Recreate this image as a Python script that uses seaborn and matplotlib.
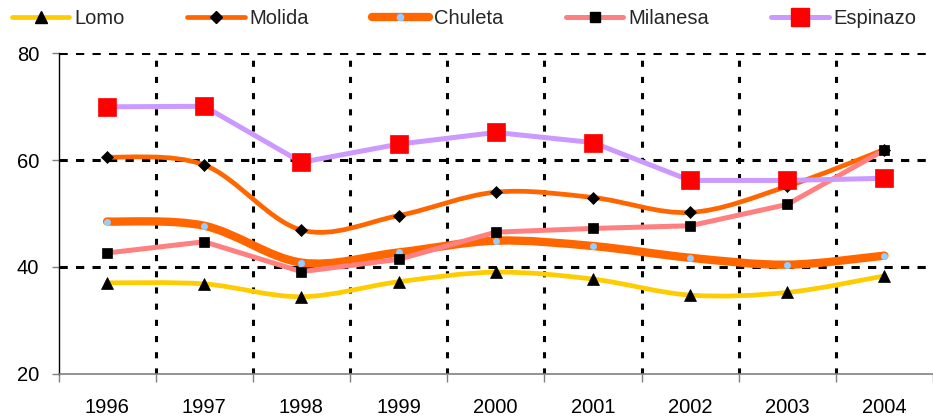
import numpy as np
import pandas as pd
import matplotlib
matplotlib.use("Agg")
import matplotlib.pyplot as plt
from matplotlib.path import Path
from matplotlib.patches import PathPatch
from matplotlib.lines import Line2D
import seaborn as sns

# ---- data ----
years = ['1996', '1997', '1998', '1999', '2000', '2001', '2002', '2003', '2004']
lomo = [37.0, 36.8, 34.4, 37.2, 39.0, 37.7, 34.7, 35.2, 38.3]
molida = [60.6, 59.1, 46.9, 49.6, 54.0, 53.0, 50.2, 55.1, 62.0]
chuleta = [48.5, 47.7, 40.8, 42.7, 44.9, 43.9, 41.7, 40.4, 42.1]
milanesa = [42.6, 44.7, 39.1, 41.4, 46.5, 47.2, 47.7, 51.7, 61.9]
espinazo = [70.0, 70.1, 59.6, 63.0, 65.2, 63.3, 56.2, 56.2, 56.6]
series_names = ['Lomo', 'Molida', 'Chuleta', 'Milanesa', 'Espinazo']
y_ticks = [20, 40, 60, 80]

values = {'Lomo': lomo, 'Molida': molida, 'Chuleta': chuleta,
          'Milanesa': milanesa, 'Espinazo': espinazo}
df = pd.DataFrame([{'pos': i, 'year': y, 'serie': s, 'valor': values[s][i]}
                   for s in series_names for i, y in enumerate(years)])

# ---- styles ----
styles = {
    'Lomo':     dict(color='#FFCC00', lw=3.4, marker='^', mfc='black', mec='black', ms=8, smooth=True),
    'Molida':   dict(color='#FF6600', lw=3.4, marker='D', mfc='black', mec='black', ms=6.5, smooth=True),
    'Chuleta':  dict(color='#FF6600', lw=6.0, marker='o', mfc='#99CCFF', mec='#99CCFF', ms=4.5, smooth=True),
    'Milanesa': dict(color='#FF8080', lw=3.6, marker='s', mfc='black', mec='black', ms=7, smooth=False),
    'Espinazo': dict(color='#CC99FF', lw=3.6, marker='s', mfc='#FF0000', mec='#FF0000', ms=12.5, smooth=False),
}

sns.set_theme(style='white')
plt.rcParams['font.family'] = ['Liberation Sans', 'DejaVu Sans']

fig = plt.figure(figsize=(9.33, 4.19), dpi=100)
ax = fig.add_axes([58.5 / 933, 1 - 373.5 / 419, 1 - 58.5 / 933, (373.5 - 53.5) / 419])


def smooth_path(xs, ys):
    pts = np.column_stack([xs, ys]).astype(float)
    n = len(pts)
    verts = [pts[0]]
    codes = [Path.MOVETO]
    for i in range(n - 1):
        p0 = pts[max(i - 1, 0)]
        p1 = pts[i]
        p2 = pts[i + 1]
        p3 = pts[min(i + 2, n - 1)]
        verts += [p1 + (p2 - p0) / 6.0, p2 - (p3 - p1) / 6.0, p2]
        codes += [Path.CURVE4] * 3
    return Path(verts, codes)


# grid lines
for yv in [40, 60, 80]:
    ax.axhline(yv, color='black', lw=2.2, linestyle=(0, (2.7, 2.7)), zorder=1)
for xv in np.arange(0.5, len(years) - 1, 1.0):
    ax.axvline(xv, color='black', lw=2.2, linestyle=(0, (2.0, 3.3)), zorder=1)

handles = []
for k, s in enumerate(series_names):
    st = styles[s]
    sub = df[df['serie'] == s]
    z = 3 + k
    if st['smooth']:
        patch = PathPatch(smooth_path(sub['pos'].values, sub['valor'].values),
                          fill=False, edgecolor=st['color'], lw=st['lw'],
                          capstyle='round', joinstyle='round', zorder=z)
        ax.add_patch(patch)
        sns.lineplot(data=sub, x='pos', y='valor', ax=ax, lw=0, marker=st['marker'],
                     markersize=st['ms'], markerfacecolor=st['mfc'],
                     markeredgecolor=st['mec'], markeredgewidth=0.5,
                     legend=False, zorder=z + 0.5, estimator=None, color=st['color'])
    else:
        sns.lineplot(data=sub, x='pos', y='valor', ax=ax, lw=st['lw'], color=st['color'],
                     marker=st['marker'], markersize=st['ms'], markerfacecolor=st['mfc'],
                     markeredgecolor=st['mec'], markeredgewidth=0.5,
                     legend=False, zorder=z, estimator=None)
    handles.append(Line2D([0], [0], color=st['color'], lw=st['lw'], marker=st['marker'],
                          markersize=st['ms'], markerfacecolor=st['mfc'],
                          markeredgecolor=st['mec'], label=s))

ax.set_xlim(-0.5, 8.44)
ax.set_ylim(20, 80)
ax.set_xlabel('')
ax.set_ylabel('')

ax.set_xticks(range(len(years)))
ax.set_xticklabels(years)
ax.set_xticks(np.arange(-0.5, len(years), 1.0), minor=True)
ax.tick_params(axis='x', which='major', length=0, pad=17.5, labelsize=14.5, labelcolor='black')
ax.tick_params(axis='x', which='minor', length=6, width=1, color='#808080', direction='out', bottom=True)
ax.set_yticks(y_ticks)
ax.tick_params(axis='y', which='major', length=5, width=1, color='#808080', direction='out',
               pad=9, labelsize=14.5, labelcolor='black', left=True)

for sp in ['top', 'right']:
    ax.spines[sp].set_visible(False)
ax.spines['left'].set_color('black')
ax.spines['left'].set_linewidth(1.0)
ax.spines['bottom'].set_color('#808080')
ax.spines['bottom'].set_linewidth(1.2)
ax.spines['left'].set_zorder(10)
ax.spines['bottom'].set_zorder(10)

fig.legend(handles=handles, loc='center left', bbox_to_anchor=(12 / 933, 1 - 19 / 419),
           ncol=5, frameon=False, fontsize=14.5, handlelength=2.85, handletextpad=0.25,
           columnspacing=3.1, borderpad=0, borderaxespad=0, numpoints=1)

fig.savefig('out.png', dpi=100)
